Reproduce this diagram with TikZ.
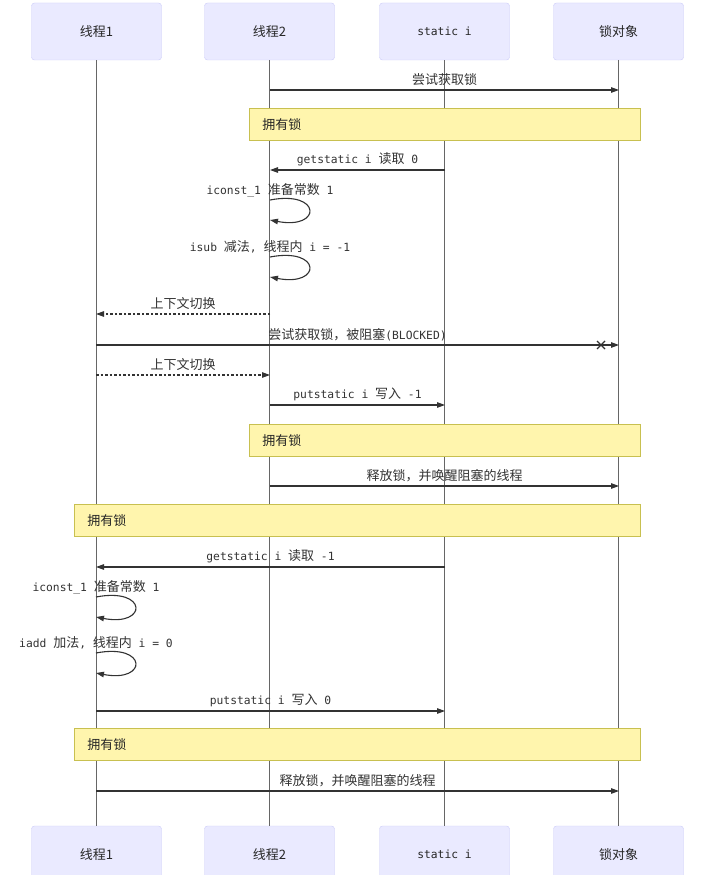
\documentclass[tikz,border=0pt]{standalone}
\usepackage{fontspec}
\setmainfont{Noto Sans CJK SC}
\newfontfamily\mono[Scale=0.87]{DejaVu Sans Mono}
\usetikzlibrary{arrows.meta}
\definecolor{actfill}{HTML}{EAEAFF}
\definecolor{actdraw}{HTML}{CCCCF8}
\definecolor{notefill}{HTML}{FFF5AD}
\definecolor{notedraw}{HTML}{C8C050}
\definecolor{msgc}{HTML}{333333}
\definecolor{lifec}{HTML}{666666}
\newcommand\mn[1]{{\mono #1}}
\tikzset{
  actor/.style={draw=actdraw, fill=actfill, rounded corners=3pt, minimum width=130pt,
    minimum height=57pt, inner sep=0pt, text=black!85, font=\fontsize{13}{15}\selectfont},
  lifeline/.style={draw=lifec, line width=0.9pt},
  msgline/.style={draw=msgc, line width=1.1pt, -{Triangle[length=8pt,width=5.5pt]}},
  dashmsg/.style={msgline, dash pattern=on 2.5pt off 2pt},
  lbl/.style={above=2.5pt, inner sep=1pt, text=msgc, font=\fontsize{13}{15}\selectfont},
  looplbl/.style={inner sep=1pt, text=msgc, font=\fontsize{13}{15}\selectfont},
  notebox/.style={draw=notedraw, fill=notefill, line width=0.8pt, anchor=north west,
    minimum height=32pt, inner xsep=13pt, inner ysep=0pt, align=left,
    text=black!85, font=\fontsize{13}{15}\selectfont},
}
\begin{document}
\begin{tikzpicture}[x=1pt,y=-1pt]
\clip (0,0) rectangle (717,875);
\fill[white] (0,0) rectangle (717,875);

% actors
\node[actor] (h1) at (96.5,31.5) {线程1};
\node[actor] (h2) at (269.5,31.5) {线程2};
\node[actor] (h3) at (444.5,31.5) {\mn{static i}};
\node[actor] (h4) at (618.5,31.5) {锁对象};
\node[actor] (f1) at (96.5,854.5) {线程1};
\node[actor] (f2) at (269.5,854.5) {线程2};
\node[actor] (f3) at (444.5,854.5) {\mn{static i}};
\node[actor] (f4) at (618.5,854.5) {锁对象};

% lifelines
\draw[lifeline] (h1) -- (f1);
\draw[lifeline] (h2) -- (f2);
\draw[lifeline] (h3) -- (f3);
\draw[lifeline] (h4) -- (f4);

% coordinates
\coordinate (m1a) at (270,90);  \coordinate (m1b) at (619,90);
\coordinate (m3a) at (445,170); \coordinate (m3b) at (270,170);
\coordinate (l1s) at (270,200); \coordinate (l1e) at (270,220);
\coordinate (l2s) at (270,257); \coordinate (l2e) at (270,277);
\coordinate (m6a) at (270,314); \coordinate (m6b) at (96,314);
\coordinate (m7a) at (96,345);  \coordinate (m7b) at (619,345);
\coordinate (m7x) at (601,345);
\coordinate (m8a) at (96,375);  \coordinate (m8b) at (270,375);
\coordinate (m9a) at (270,405); \coordinate (m9b) at (445,405);
\coordinate (m11a) at (270,486); \coordinate (m11b) at (619,486);
\coordinate (m13a) at (445,567); \coordinate (m13b) at (96,567);
\coordinate (l3s) at (96,597); \coordinate (l3e) at (96,617);
\coordinate (l4s) at (96,653); \coordinate (l4e) at (96,673);
\coordinate (m16a) at (96,711); \coordinate (m16b) at (445,711);
\coordinate (m18a) at (96,791); \coordinate (m18b) at (619,791);

% messages
\draw[msgline] (m1a) -- node[lbl] (t1) {尝试获取锁} (m1b);
\node[notebox, text width=365pt] (n1) at (249,108) {拥有锁};
\draw[msgline] (m3a) -- node[lbl] (t3) {\mn{getstatic i }读取\mn{ 0}} (m3b);
\node[looplbl] (t4) at (270,190) {\mn{iconst\_1 }准备常数\mn{ 1}};
\draw[msgline] (l1s) .. controls +(52,-10) and +(52,10) .. (l1e);
\node[looplbl] (t5) at (270,247) {\mn{isub }减法\mn{, }线程内\mn{ i = -1}};
\draw[msgline] (l2s) .. controls +(52,-10) and +(52,10) .. (l2e);
\draw[dashmsg] (m6a) -- node[lbl] (t6) {上下文切换} (m6b);
\draw[msgline] (m7a) -- node[lbl] (t7) {尝试获取锁，被阻塞\mn{(BLOCKED)}} (m7b);
\draw[draw=msgc, line width=1.1pt] ([shift={(-4,-4)}]m7x) -- ([shift={(4,4)}]m7x)
  ([shift={(-4,4)}]m7x) -- ([shift={(4,-4)}]m7x);
\draw[dashmsg] (m8a) -- node[lbl] (t8) {上下文切换} (m8b);
\draw[msgline] (m9a) -- node[lbl] (t9) {\mn{putstatic i }写入\mn{ -1}} (m9b);
\node[notebox, text width=365pt] (n2) at (249,424) {拥有锁};
\draw[msgline] (m11a) -- node[lbl] (t11) {释放锁，并唤醒阻塞的线程} (m11b);
\node[notebox, text width=540pt] (n3) at (74,504) {拥有锁};
\draw[msgline] (m13a) -- node[lbl] (t13) {\mn{getstatic i }读取\mn{ -1}} (m13b);
\node[looplbl] (t14) at (96,587) {\mn{iconst\_1 }准备常数\mn{ 1}};
\draw[msgline] (l3s) .. controls +(52,-10) and +(52,10) .. (l3e);
\node[looplbl] (t15) at (96,643) {\mn{iadd }加法\mn{, }线程内\mn{ i = 0}};
\draw[msgline] (l4s) .. controls +(52,-10) and +(52,10) .. (l4e);
\draw[msgline] (m16a) -- node[lbl] (t16) {\mn{putstatic i }写入\mn{ 0}} (m16b);
\node[notebox, text width=540pt] (n4) at (74,728) {拥有锁};
\draw[msgline] (m18a) -- node[lbl] (t18) {释放锁，并唤醒阻塞的线程} (m18b);
\end{tikzpicture}
\end{document}
